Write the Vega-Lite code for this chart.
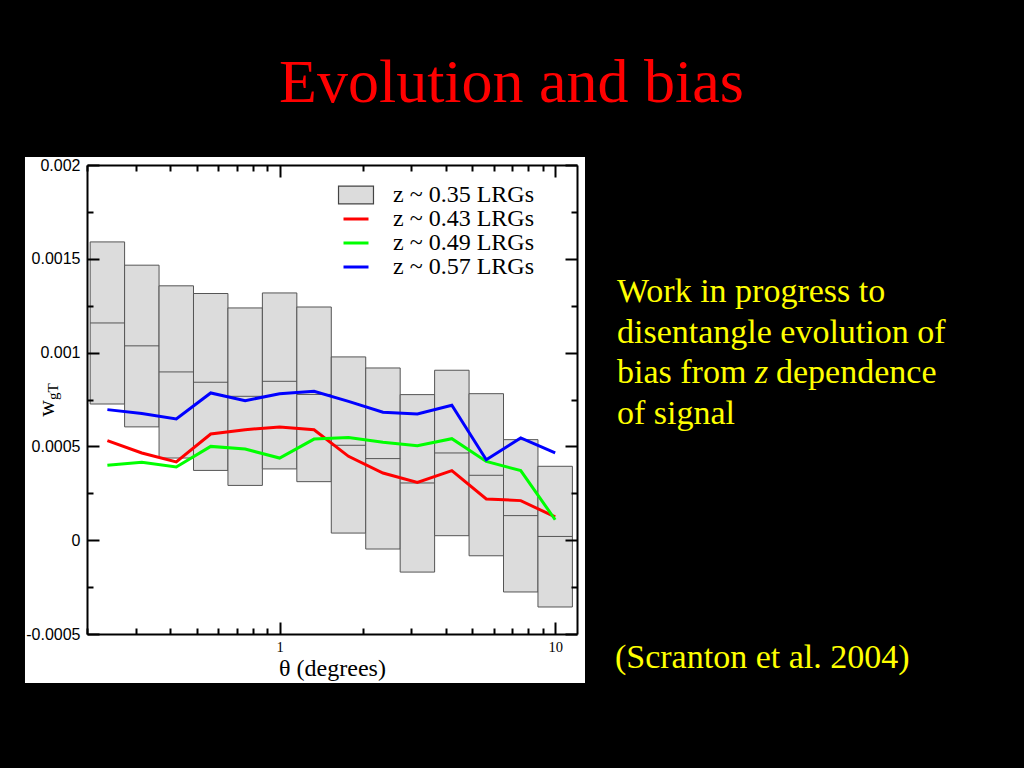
{
  "$schema": "https://vega.github.io/schema/vega-lite/v6.json",
  "autosize": {"type": "none"},
  "width": 490,
  "height": 469,
  "padding": {"left": 87, "top": 165, "right": 447, "bottom": 134},
  "background": "black",
  "config": {"font": "Liberation Serif", "view": {"stroke": null}},
  "title": {
    "text": "Evolution and bias",
    "color": "#ff0000",
    "font": "Liberation Serif",
    "fontSize": 62,
    "fontWeight": "normal",
    "anchor": "middle",
    "frame": "group",
    "dx": 179.5,
    "baseline": "alphabetic",
    "offset": -7
  },
  "datasets": {
    "panel": [{"x1": 0.11912, "x2": 12.83, "y1": -0.000761, "y2": 0.0020426}],
    "boxes": [
      {"lo": 0.20535, "hi": 0.27384, "top": 0.001590, "mid": 0.001158, "bot": 0.000726, "series": "z ~ 0.35 LRGs"},
      {"lo": 0.27384, "hi": 0.36517, "top": 0.001466, "mid": 0.001036, "bot": 0.000604, "series": "z ~ 0.35 LRGs"},
      {"lo": 0.36517, "hi": 0.48697, "top": 0.001356, "mid": 0.000897, "bot": 0.000438, "series": "z ~ 0.35 LRGs"},
      {"lo": 0.48697, "hi": 0.64938, "top": 0.001315, "mid": 0.000842, "bot": 0.000372, "series": "z ~ 0.35 LRGs"},
      {"lo": 0.64938, "hi": 0.86596, "top": 0.001238, "mid": 0.000767, "bot": 0.000292, "series": "z ~ 0.35 LRGs"},
      {"lo": 0.86596, "hi": 1.15478, "top": 0.001318, "mid": 0.000847, "bot": 0.000380, "series": "z ~ 0.35 LRGs"},
      {"lo": 1.15478, "hi": 1.53993, "top": 0.001243, "mid": 0.000777, "bot": 0.000312, "series": "z ~ 0.35 LRGs"},
      {"lo": 1.53993, "hi": 2.05353, "top": 0.000977, "mid": 0.000506, "bot": 0.000038, "series": "z ~ 0.35 LRGs"},
      {"lo": 2.05353, "hi": 2.73842, "top": 0.000918, "mid": 0.000435, "bot": -0.000047, "series": "z ~ 0.35 LRGs"},
      {"lo": 2.73842, "hi": 3.65174, "top": 0.000776, "mid": 0.000305, "bot": -0.000170, "series": "z ~ 0.35 LRGs"},
      {"lo": 3.65174, "hi": 4.86968, "top": 0.000906, "mid": 0.000465, "bot": 0.000024, "series": "z ~ 0.35 LRGs"},
      {"lo": 4.86968, "hi": 6.49382, "top": 0.000781, "mid": 0.000346, "bot": -0.000083, "series": "z ~ 0.35 LRGs"},
      {"lo": 6.49382, "hi": 8.65964, "top": 0.000536, "mid": 0.000131, "bot": -0.000276, "series": "z ~ 0.35 LRGs"},
      {"lo": 8.65964, "hi": 11.54782, "top": 0.000394, "mid": 0.000020, "bot": -0.000356, "series": "z ~ 0.35 LRGs"}
    ],
    "lines": [
      {"theta": 0.23714, "w": 0.000531, "series": "z ~ 0.43 LRGs"},
      {"theta": 0.31623, "w": 0.000465, "series": "z ~ 0.43 LRGs"},
      {"theta": 0.42170, "w": 0.000417, "series": "z ~ 0.43 LRGs"},
      {"theta": 0.56234, "w": 0.000566, "series": "z ~ 0.43 LRGs"},
      {"theta": 0.74989, "w": 0.000589, "series": "z ~ 0.43 LRGs"},
      {"theta": 1.0, "w": 0.000604, "series": "z ~ 0.43 LRGs"},
      {"theta": 1.33352, "w": 0.000589, "series": "z ~ 0.43 LRGs"},
      {"theta": 1.77828, "w": 0.000447, "series": "z ~ 0.43 LRGs"},
      {"theta": 2.37137, "w": 0.000358, "series": "z ~ 0.43 LRGs"},
      {"theta": 3.16228, "w": 0.000308, "series": "z ~ 0.43 LRGs"},
      {"theta": 4.21697, "w": 0.000371, "series": "z ~ 0.43 LRGs"},
      {"theta": 5.62341, "w": 0.000220, "series": "z ~ 0.43 LRGs"},
      {"theta": 7.49894, "w": 0.000211, "series": "z ~ 0.43 LRGs"},
      {"theta": 10.0, "w": 0.000124, "series": "z ~ 0.43 LRGs"},
      {"theta": 0.23714, "w": 0.000399, "series": "z ~ 0.49 LRGs"},
      {"theta": 0.31623, "w": 0.000415, "series": "z ~ 0.49 LRGs"},
      {"theta": 0.42170, "w": 0.000390, "series": "z ~ 0.49 LRGs"},
      {"theta": 0.56234, "w": 0.000500, "series": "z ~ 0.49 LRGs"},
      {"theta": 0.74989, "w": 0.000486, "series": "z ~ 0.49 LRGs"},
      {"theta": 1.0, "w": 0.000438, "series": "z ~ 0.49 LRGs"},
      {"theta": 1.33352, "w": 0.000539, "series": "z ~ 0.49 LRGs"},
      {"theta": 1.77828, "w": 0.000548, "series": "z ~ 0.49 LRGs"},
      {"theta": 2.37137, "w": 0.000522, "series": "z ~ 0.49 LRGs"},
      {"theta": 3.16228, "w": 0.000504, "series": "z ~ 0.49 LRGs"},
      {"theta": 4.21697, "w": 0.000541, "series": "z ~ 0.49 LRGs"},
      {"theta": 5.62341, "w": 0.000420, "series": "z ~ 0.49 LRGs"},
      {"theta": 7.49894, "w": 0.000371, "series": "z ~ 0.49 LRGs"},
      {"theta": 10.0, "w": 0.000109, "series": "z ~ 0.49 LRGs"},
      {"theta": 0.23714, "w": 0.000696, "series": "z ~ 0.57 LRGs"},
      {"theta": 0.31623, "w": 0.000675, "series": "z ~ 0.57 LRGs"},
      {"theta": 0.42170, "w": 0.000646, "series": "z ~ 0.57 LRGs"},
      {"theta": 0.56234, "w": 0.000785, "series": "z ~ 0.57 LRGs"},
      {"theta": 0.74989, "w": 0.000744, "series": "z ~ 0.57 LRGs"},
      {"theta": 1.0, "w": 0.000781, "series": "z ~ 0.57 LRGs"},
      {"theta": 1.33352, "w": 0.000794, "series": "z ~ 0.57 LRGs"},
      {"theta": 1.77828, "w": 0.000740, "series": "z ~ 0.57 LRGs"},
      {"theta": 2.37137, "w": 0.000682, "series": "z ~ 0.57 LRGs"},
      {"theta": 3.16228, "w": 0.000673, "series": "z ~ 0.57 LRGs"},
      {"theta": 4.21697, "w": 0.000719, "series": "z ~ 0.57 LRGs"},
      {"theta": 5.62341, "w": 0.000429, "series": "z ~ 0.57 LRGs"},
      {"theta": 7.49894, "w": 0.000545, "series": "z ~ 0.57 LRGs"},
      {"theta": 10.0, "w": 0.000465, "series": "z ~ 0.57 LRGs"}
    ],
    "notes": [
      {"tx": 16.76, "ty": 0.00126972, "label": "Work in progress to"},
      {"tx": 16.76, "ty": 0.00105117, "label": "disentangle evolution of"},
      {"tx": 16.76, "ty": 0.00083795, "label": "bias from"},
      {"tx": 63.30, "ty": 0.00083795, "label": "dependence"},
      {"tx": 16.76, "ty": 0.00061940, "label": "of signal"},
      {"tx": 16.48, "ty": -0.00068124, "label": "(Scranton et al. 2004)"}
    ],
    "italic": [{"tx": 53.10, "ty": 0.00083795, "label": "z"}],
    "subscript": [{"tx": 0.15695, "ty": 0.0007473, "label": "gT"}]
  },
  "resolve": {"axis": {"x": "independent", "y": "independent"}},
  "layer": [
    {
      "data": {"name": "panel"},
      "mark": {"type": "rect", "fill": "white"},
      "encoding": {
        "x": {"field": "x1", "type": "quantitative", "scale": {"type": "log", "domain": [0.2, 12], "nice": false}, "axis": null},
        "x2": {"field": "x2"},
        "y": {"field": "y1", "type": "quantitative", "scale": {"domain": [-0.0005, 0.002], "nice": false, "zero": false}, "axis": null},
        "y2": {"field": "y2"}
      }
    },
    {
      "data": {"name": "boxes"},
      "mark": {"type": "rect", "fill": "#dcdcdc", "stroke": "#555555", "strokeWidth": 1},
      "encoding": {
        "x": {
          "field": "lo", "type": "quantitative",
          "axis": {
            "orient": "bottom", "zindex": 1, "title": "θ (degrees)",
            "values": [0.2, 0.3, 0.4, 0.5, 0.6, 0.7, 0.8, 0.9, 1, 2, 3, 4, 5, 6, 7, 8, 9, 10],
            "labelExpr": "datum.value == 1 ? '1' : (datum.value == 10 ? '10' : '')",
            "tickSize": {"condition": {"test": "datum.value == 1 || datum.value == 10", "value": -12}, "value": -6},
            "tickWidth": 2, "tickColor": "black", "domainColor": "black", "domainWidth": 2,
            "labelFont": "Liberation Serif", "labelFontSize": 14.5, "labelColor": "black", "labelPadding": 18,
            "labelFlush": false, "labelOverlap": false,
            "titleFont": "Liberation Serif", "titleFontSize": 24, "titleFontWeight": "normal", "titleColor": "black",
            "titleBaseline": "alphabetic", "titleY": 41, "grid": false
          }
        },
        "x2": {"field": "hi"},
        "y": {
          "field": "bot", "type": "quantitative",
          "axis": {
            "orient": "left", "zindex": 1, "title": "w",
            "values": [-0.0005, -0.00025, 0, 0.00025, 0.0005, 0.00075, 0.001, 0.00125, 0.0015, 0.00175, 0.002],
            "labelExpr": "round(datum.value*4000) % 2 == 0 ? toString(round(datum.value*100000)/100000) : ''",
            "tickSize": {"condition": {"test": "round(datum.value*4000) % 2 == 0", "value": -12}, "value": -6},
            "tickWidth": 2, "tickColor": "black", "domainColor": "black", "domainWidth": 2,
            "labelFont": "Liberation Sans", "labelFontSize": 16, "labelColor": "black", "labelPadding": 19,
            "labelFlush": false, "labelOverlap": false,
            "titleFont": "Liberation Serif", "titleFontSize": 23, "titleFontWeight": "normal", "titleColor": "black",
            "titleAngle": 270, "titleX": -34, "titleY": 243, "titleAlign": "center", "titleBaseline": "alphabetic", "grid": false
          }
        },
        "y2": {"field": "top"}
      }
    },
    {
      "data": {"name": "boxes"},
      "mark": {"type": "rule", "stroke": "#555555", "strokeWidth": 1},
      "encoding": {
        "x": {
          "field": "lo", "type": "quantitative",
          "axis": {
            "orient": "top", "zindex": 1, "title": null, "labels": false,
            "values": [0.2, 0.3, 0.4, 0.5, 0.6, 0.7, 0.8, 0.9, 1, 2, 3, 4, 5, 6, 7, 8, 9, 10],
            "tickSize": {"condition": {"test": "datum.value == 1 || datum.value == 10", "value": -12}, "value": -6},
            "tickWidth": 2, "tickColor": "black", "domainColor": "black", "domainWidth": 2, "grid": false
          }
        },
        "x2": {"field": "hi"},
        "y": {
          "field": "mid", "type": "quantitative",
          "axis": {
            "orient": "right", "zindex": 1, "title": null, "labels": false,
            "values": [-0.0005, -0.00025, 0, 0.00025, 0.0005, 0.00075, 0.001, 0.00125, 0.0015, 0.00175, 0.002],
            "tickSize": {"condition": {"test": "round(datum.value*4000) % 2 == 0", "value": -12}, "value": -6},
            "tickWidth": 2, "tickColor": "black", "domainColor": "black", "domainWidth": 2, "grid": false
          }
        }
      }
    },
    {
      "data": {"name": "lines"},
      "mark": {"type": "line", "strokeWidth": 3},
      "encoding": {
        "x": {"field": "theta", "type": "quantitative", "axis": null},
        "y": {"field": "w", "type": "quantitative", "axis": null},
        "color": {
          "field": "series", "type": "nominal",
          "scale": {
            "domain": ["z ~ 0.35 LRGs", "z ~ 0.43 LRGs", "z ~ 0.49 LRGs", "z ~ 0.57 LRGs"],
            "range": ["#444444", "#ff0000", "#00ff00", "#0000ff"]
          },
          "legend": {
            "orient": "none", "legendX": 257, "legendY": 18, "title": null, "padding": 0,
            "labelFont": "Liberation Serif", "labelFontSize": 24, "labelColor": "black", "labelOffset": 25,
            "labelLimit": 400, "rowPadding": 0, "symbolSize": 529,
            "encode": {
              "symbols": {
                "update": {
                  "shape": {"signal": "datum.value == 'z ~ 0.35 LRGs' ? 'M-1.52,-0.78H1.52V0.78H-1.52Z' : 'M-1.087,0H1.087'"},
                  "fill": {"signal": "datum.value == 'z ~ 0.35 LRGs' ? '#dcdcdc' : 'transparent'"},
                  "strokeWidth": {"signal": "datum.value == 'z ~ 0.35 LRGs' ? 1.2 : 3"},
                  "opacity": {"value": 1}
                }
              }
            }
          }
        }
      }
    },
    {
      "data": {"name": "notes"},
      "mark": {"type": "text", "color": "#ffff00", "font": "Liberation Serif", "fontSize": 34, "align": "left", "baseline": "alphabetic"},
      "encoding": {
        "x": {"field": "tx", "type": "quantitative", "axis": null},
        "y": {"field": "ty", "type": "quantitative", "axis": null},
        "text": {"field": "label"}
      }
    },
    {
      "data": {"name": "italic"},
      "mark": {"type": "text", "color": "#ffff00", "font": "Liberation Serif", "fontSize": 34, "fontStyle": "italic", "align": "left", "baseline": "alphabetic"},
      "encoding": {
        "x": {"field": "tx", "type": "quantitative", "axis": null},
        "y": {"field": "ty", "type": "quantitative", "axis": null},
        "text": {"field": "label"}
      }
    },
    {
      "data": {"name": "subscript"},
      "mark": {"type": "text", "color": "black", "font": "Liberation Serif", "fontSize": 15, "angle": 270, "align": "left", "baseline": "alphabetic"},
      "encoding": {
        "x": {"field": "tx", "type": "quantitative", "axis": null},
        "y": {"field": "ty", "type": "quantitative", "axis": null},
        "text": {"field": "label"}
      }
    }
  ]
}
